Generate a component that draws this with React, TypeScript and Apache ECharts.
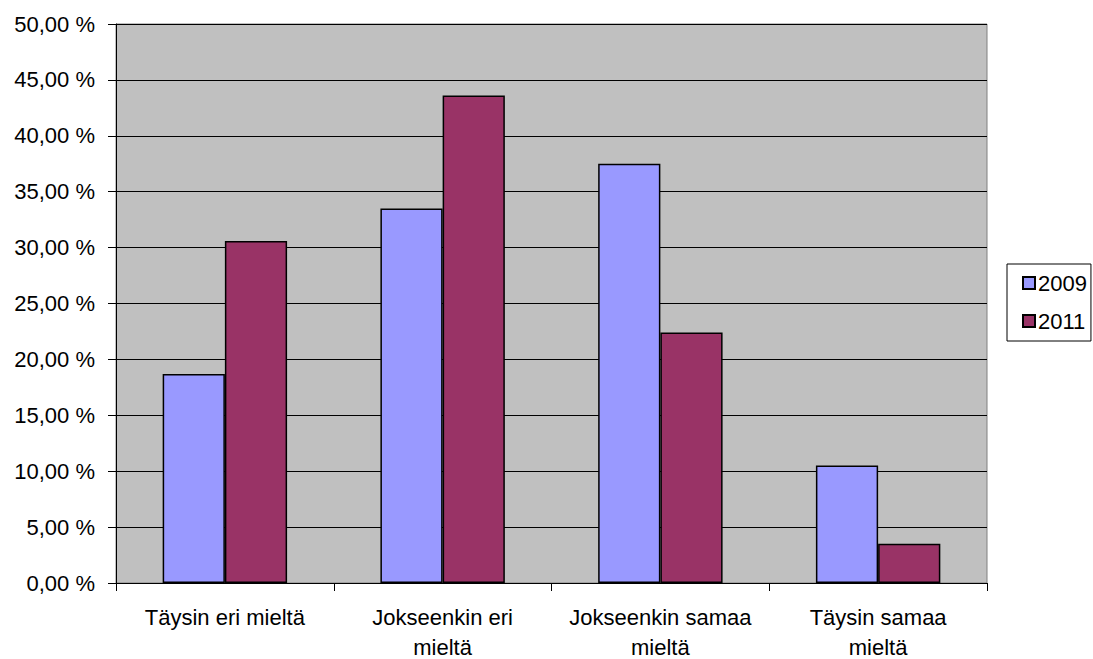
import React, { useEffect, useRef } from "react";
import * as echarts from "echarts";

const categories = ["Täysin eri mieltä", "Jokseenkin eri\nmieltä", "Jokseenkin samaa\nmieltä", "Täysin samaa\nmieltä"];
const series2009 = [18.7, 33.5, 37.5, 10.5];
const series2011 = [30.6, 43.6, 22.4, 3.5];
const seriesNames = ["2009", "2011"];

export default function App() {
  const ref = useRef<HTMLDivElement>(null);
  useEffect(() => {
    document.body.style.margin = "0";
    const chart = echarts.init(ref.current!, null, { renderer: "svg" });
    const font = "Liberation Sans, Arial, sans-serif";
    chart.setOption({
      animation: false,
      backgroundColor: "#ffffff",
      grid: {
        left: 116,
        top: 24,
        width: 871,
        height: 559,
        outerBoundsMode: "none",
        containLabel: false,
        show: true,
        backgroundColor: "#C0C0C0",
        borderColor: "#808080",
        borderWidth: 1,
      },
      legend: {
        orient: "vertical",
        left: 1007,
        top: 264,
        padding: [8, 4, 9, 15],
        borderColor: "#000",
        borderWidth: 1,
        itemWidth: 12,
        itemHeight: 12,
        itemGap: 16,
        textStyle: { fontFamily: font, fontSize: 22, lineHeight: 22, color: "#000", padding: [0, 0, 0, -2] },
        data: seriesNames.map((n) => ({ name: n, icon: "rect" })),
      },
      xAxis: {
        type: "category",
        data: categories,
        axisLine: { lineStyle: { color: "#000", width: 1 } },
        axisTick: { show: true, length: 8, lineStyle: { color: "#000" } },
        axisLabel: {
          fontFamily: font,
          fontSize: 22,
          color: "#000",
          margin: 19,
          lineHeight: 30,
          interval: 0,
        },
      },
      yAxis: {
        type: "value",
        min: 0,
        max: 50,
        interval: 5,
        axisLine: { show: true, lineStyle: { color: "#000", width: 1 } },
        axisTick: { show: true, length: 8, lineStyle: { color: "#000" } },
        splitLine: { show: true, lineStyle: { color: "#000", width: 1 } },
        axisLabel: {
          fontFamily: font,
          fontSize: 22,
          color: "#000",
          margin: 21,
          formatter: (v: number) => v.toFixed(2).replace(".", ",") + " %",
        },
      },
      series: [
        {
          name: seriesNames[0],
          type: "bar",
          data: series2009,
          barGap: "0%",
          barCategoryGap: "42.86%",
          itemStyle: { color: "#9999FF", borderColor: "#000", borderWidth: 1.5 },
        },
        {
          name: seriesNames[1],
          type: "bar",
          data: series2011,
          barGap: "0%",
          barCategoryGap: "42.86%",
          itemStyle: { color: "#993366", borderColor: "#000", borderWidth: 1.5 },
        },
      ],
    });
    return () => chart.dispose();
  }, []);
  return <div ref={ref} style={{ width: 1093, height: 659 }} />;
}
